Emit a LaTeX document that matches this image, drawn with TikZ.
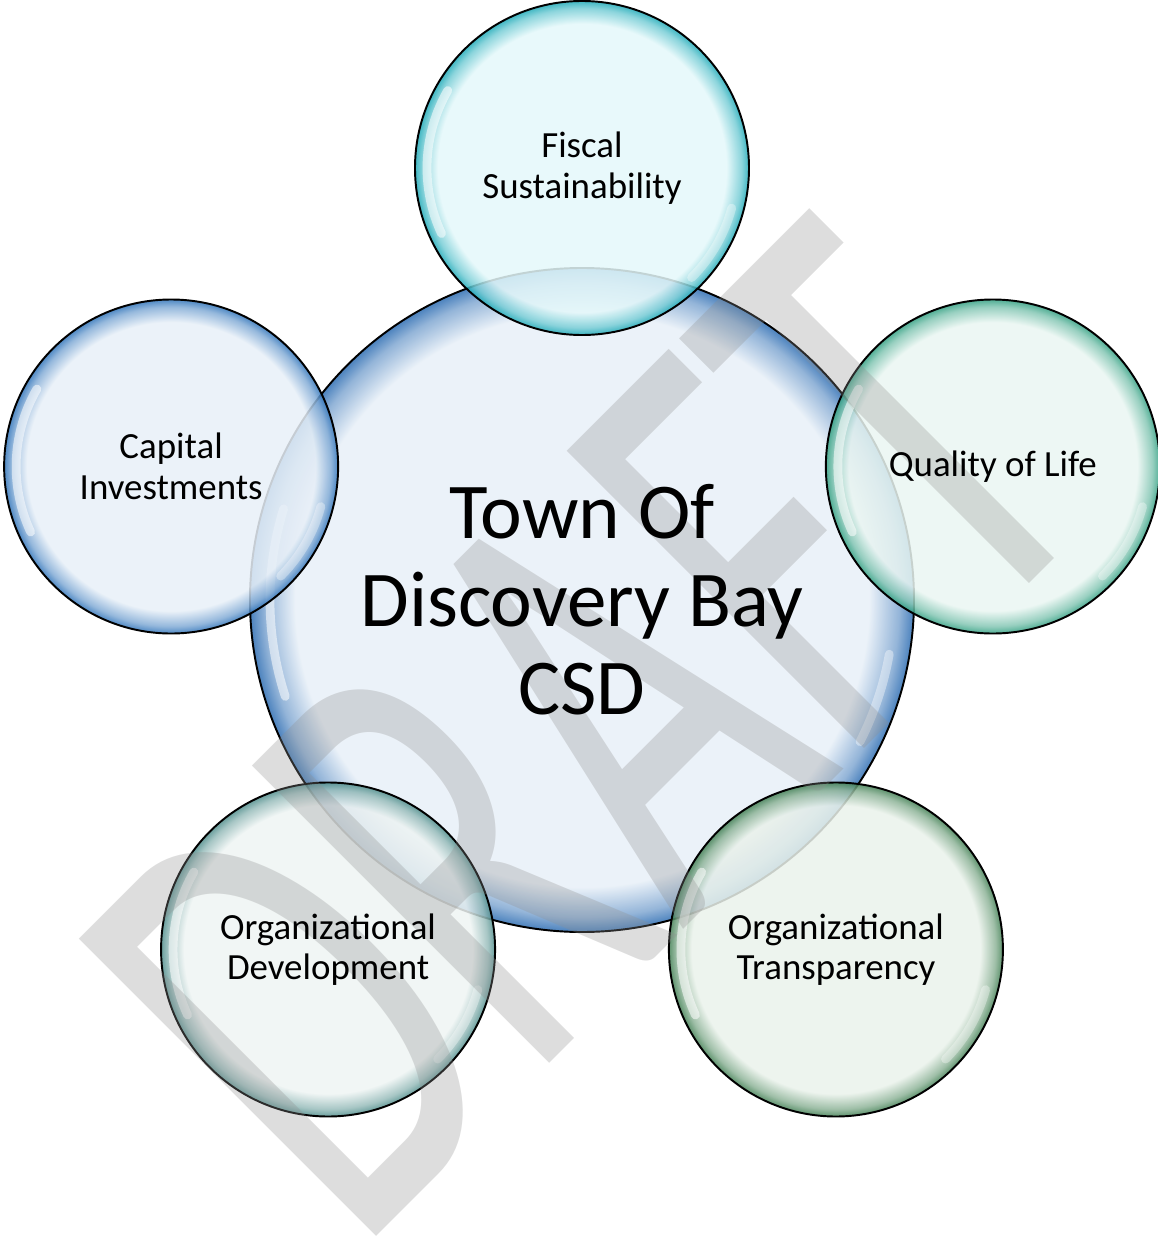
\documentclass[tikz,border=0pt]{standalone}
\usepackage{fontspec}
\setmainfont{Carlito}
\usetikzlibrary{positioning}

% bubble colours: inside / rim
\definecolor{hubin}{RGB}{232,240,248}
\definecolor{hubrim}{RGB}{44,108,178}
\definecolor{fisin}{RGB}{228,248,250}
\definecolor{fisrim}{RGB}{30,170,184}
\definecolor{capin}{RGB}{232,240,248}
\definecolor{caprim}{RGB}{48,116,186}
\definecolor{qolin}{RGB}{234,246,242}
\definecolor{qolrim}{RGB}{50,160,130}
\definecolor{devin}{RGB}{238,244,243}
\definecolor{devrim}{RGB}{80,142,140}
\definecolor{trnin}{RGB}{234,242,235}
\definecolor{trnrim}{RGB}{66,128,84}
\definecolor{wmgray}{RGB}{143,143,143}

\colorlet{bubin}{white}
\colorlet{bubmid}{gray}
\colorlet{bubrim}{black}
\pgfdeclareradialshading[bubin,bubmid,bubrim]{bubble}{\pgfpoint{0bp}{0bp}}{%
  color(0bp)=(bubin); color(21.6bp)=(bubin); color(23.9bp)=(bubmid);
  color(25bp)=(bubrim); color(50bp)=(bubrim)}

\tikzset{
  bubble/.style n args={3}{circle, draw=black, line width=1.1pt, inner sep=0pt,
    minimum size=#1, fill opacity=0.85, shading=bubble,
    /utils/exec={\colorlet{bubin}{#2}\colorlet{bubrim}{#3}\colorlet{bubmid}{#2!45!#3}}},
  gloss/.style={white, line width=5, line cap=round, opacity=0.55},
  bubtext/.style={align=center, font=\fontsize{21}{23}\selectfont},
  hubtext/.style={align=center, font=\fontsize{45}{50}\selectfont},
  wmark/.style={inner sep=0pt, text=wmgray, text opacity=0.3,
    font=\fontsize{226}{226}\selectfont}
}

\begin{document}
\begin{tikzpicture}[x=0.2mm, y=0.2mm]

    \useasboundingbox (-582,-648) rectangle (576,600);

    % centre bubble
    \node[bubble={13.28cm}{hubin}{hubrim}] (hub) at (0,0) {};
    \draw[gloss] ([shift={(163:312)}]hub.center) arc[start angle=163, end angle=198, radius=312];
    \draw[gloss, opacity=0.4] ([shift={(333:312)}]hub.center) arc[start angle=333, end angle=350, radius=312];

    % five goal bubbles round it
    \foreach \ang/\nm/\cin/\crim in {90/fiscal/fisin/fisrim, 162/capital/capin/caprim,
        18/quality/qolin/qolrim, 234/orgdev/devin/devrim, 306/transp/trnin/trnrim}
    {
        \node[bubble={6.68cm}{\cin}{\crim}] (\nm) at (\ang:432) {};
        \draw[gloss] ([shift={(150:155)}]\nm.center) arc[start angle=150, end angle=205, radius=155];
        \draw[gloss, opacity=0.35] ([shift={(315:155)}]\nm.center) arc[start angle=315, end angle=345, radius=155];
    }

    % watermark
    \begin{scope}[shift={(-225,-656)}, rotate=45, yscale=1.65, transform shape]
        \node[wmark, anchor=base west] (draft) at (0,0) {DRAFT};
    \end{scope}

    % labels
    \node[hubtext] (hub-txt) at (hub) {Town Of\\Discovery Bay\\CSD};
    \foreach \nm/\txt in {fiscal/{Fiscal\\Sustainability}, capital/{Capital\\Investments},
        quality/{Quality of Life}, orgdev/{Organizational\\Development},
        transp/{Organizational\\Transparency}}
        \node[bubtext] (\nm-txt) at (\nm) {\txt};

\end{tikzpicture}
\end{document}
